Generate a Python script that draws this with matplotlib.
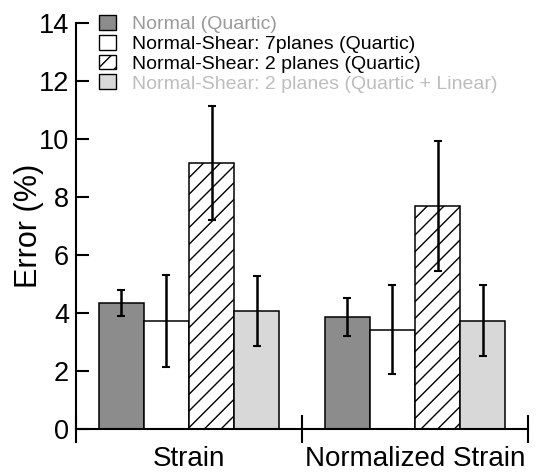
import matplotlib.pyplot as plt
import numpy as np
from matplotlib.patches import Patch

plt.rcParams['font.family'] = ['Liberation Sans', 'DejaVu Sans']
plt.rcParams['hatch.linewidth'] = 1.0

# data
categories = ["Strain", "Normalized Strain"]
series = ["Normal (Quartic)",
          "Normal-Shear: 7planes (Quartic)",
          "Normal-Shear: 2 planes (Quartic)",
          "Normal-Shear: 2 planes (Quartic + Linear)"]
means = [[4.35, 3.86],
         [3.72, 3.43],
         [9.18, 7.70],
         [4.08, 3.74]]
errors = [[0.44, 0.65],
          [1.58, 1.53],
          [1.96, 2.24],
          [1.21, 1.22]]

# styles
faces = ['#8c8c8c', 'white', 'white', '#d8d8d8']
hatches = [None, None, '//', None]
text_colors = ['#9a9a9a', 'black', 'black', '#bdbdbd']

fig = plt.figure(figsize=(5.36, 4.72), dpi=100)
ax = fig.add_axes([0.1418, 0.0911, 0.8433, 0.8602])

x = np.arange(len(categories)) + 0.5
w = 0.2
for i in range(len(series)):
    pos = x + (i - 1.5) * w
    ax.bar(pos, means[i], width=w, color=faces[i], edgecolor='black',
           linewidth=1.1, hatch=hatches[i], zorder=2)
    ax.errorbar(pos, means[i], yerr=errors[i], fmt='none', ecolor='black',
                elinewidth=1.8, capsize=2.9, capthick=1.5, zorder=3)

ax.set_xlim(0, 2)
ax.set_ylim(0, 14)
ax.set_yticks(np.arange(0, 15, 2))
ax.set_xticks(x)
ax.set_xticklabels(categories)
ax.set_xticks([0, 1, 2], minor=True)

for s in ['top', 'right']:
    ax.spines[s].set_visible(False)
for s in ['left', 'bottom']:
    ax.spines[s].set_linewidth(1.5)

ax.tick_params(axis='y', direction='in', length=9.4, width=1.5, labelsize=19.5, pad=5)
ax.tick_params(axis='x', which='major', length=0, labelsize=20, pad=12)
ax.tick_params(axis='x', which='minor', direction='inout', length=20, width=1.5)
ax.set_ylabel("Error (%)", fontsize=22, labelpad=-4)

handles = [Patch(facecolor=faces[i], edgecolor='black', linewidth=1.0, hatch=hatches[i])
           for i in range(len(series))]
leg = fig.legend(handles, series, loc='upper left', bbox_to_anchor=(0.185, 0.968),
                 frameon=False, fontsize=14, handlelength=0.88, handleheight=0.8,
                 handletextpad=0.8, labelspacing=0.08, borderpad=0, borderaxespad=0)
for t, c in zip(leg.get_texts(), text_colors):
    t.set_color(c)

fig.savefig("out.png", dpi=100)
